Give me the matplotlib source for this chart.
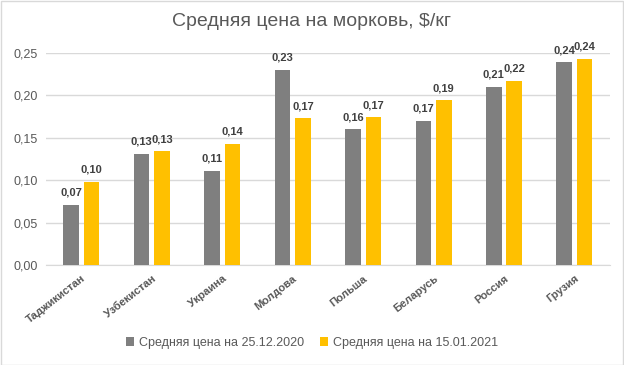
import numpy as np
import matplotlib
matplotlib.use("Agg")
import matplotlib.pyplot as plt

plt.rcParams['font.family'] = ['Liberation Sans', 'DejaVu Sans']

countries = ["Таджикистан", "Узбекистан", "Украина", "Молдова",
             "Польша", "Беларусь", "Россия", "Грузия"]
price_dec = [0.071, 0.131, 0.111, 0.230, 0.160, 0.170, 0.210, 0.239]
price_jan = [0.098, 0.134, 0.143, 0.173, 0.174, 0.194, 0.217, 0.243]
label_dec = "Средняя цена на 25.12.2020"
label_jan = "Средняя цена на 15.01.2021"
yticks = [0.0, 0.05, 0.10, 0.15, 0.20, 0.25]

GRAY = "#7f7f7f"
GOLD = "#ffc000"
TXT = "#595959"

fig = plt.figure(figsize=(6.24, 3.65), dpi=100)
fig.patches.append(plt.Rectangle((0.001, 0.001), 0.997, 0.996, transform=fig.transFigure,
                                 fill=False, edgecolor="#d9d9d9", linewidth=1))
ax = fig.add_axes([0.074, 0.274, 0.903, 0.581])

x = np.arange(len(countries))
w = 0.22
off = 0.145
b1 = ax.bar(x - off, price_dec, w, color=GRAY, label=label_dec, zorder=3)
b2 = ax.bar(x + off, price_jan, w, color=GOLD, label=label_jan, zorder=3)

for bars in (b1, b2):
    for r in bars:
        v = r.get_height()
        ax.annotate(f"{v:.2f}".replace(".", ","), (r.get_x() + r.get_width() / 2, v),
                    xytext=(0, 5), textcoords="offset points", ha="center", va="bottom",
                    fontsize=8, fontweight="bold", color="#404040")

ax.set_xlim(-0.5, len(countries) - 0.5)
ax.set_ylim(0, 0.25)
ax.set_yticks(yticks)
ax.set_yticklabels([f"{t:.2f}".replace(".", ",") for t in yticks], fontsize=9, color=TXT)
ax.yaxis.grid(True, color="#d9d9d9", linewidth=1, zorder=0)
ax.set_xticks(x)
ax.set_xticklabels(countries, rotation=38, ha="right", rotation_mode="anchor",
                   fontsize=8, fontweight="bold", color=TXT)
ax.tick_params(axis="both", length=0, pad=6)
for s in ("top", "right", "left"):
    ax.spines[s].set_visible(False)
ax.spines["bottom"].set_color("#d9d9d9")

fig.text(0.5, 0.94, "Средняя цена на морковь, $/кг", ha="center", va="center",
         fontsize=14, color=TXT)
fig.legend(handles=[b1, b2], loc="center", bbox_to_anchor=(0.5, 0.06), ncol=2,
           frameon=False, fontsize=9, handlelength=0.7, handleheight=0.7,
           columnspacing=1.2, handletextpad=0.4, labelcolor=TXT)

fig.savefig("out.png", dpi=100)
